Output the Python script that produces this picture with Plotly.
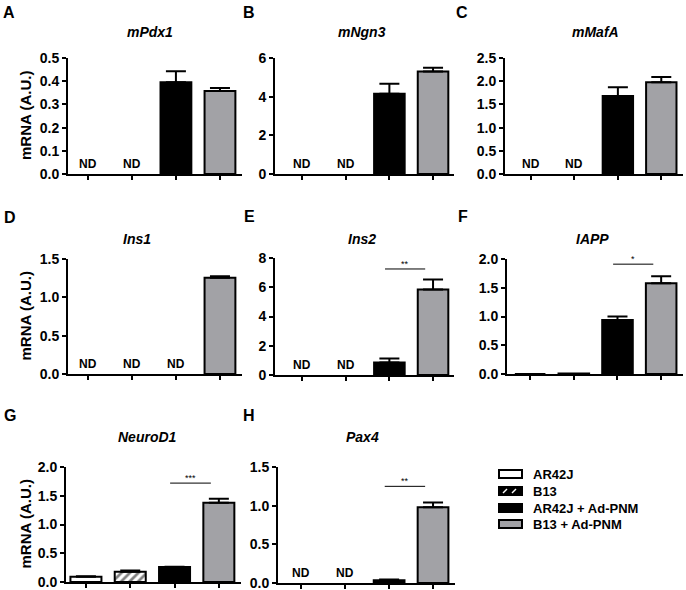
import plotly.graph_objects as go

# ---------------- data ----------------
categories = ["AR42J", "B13", "AR42J + Ad-PNM", "B13 + Ad-PNM"]

mPdx1 = [None, None, 0.395, 0.358]
mPdx1_err = [0, 0, 0.048, 0.013]
mNgn3 = [None, None, 4.15, 5.30]
mNgn3_err = [0, 0, 0.52, 0.20]
mMafA = [None, None, 1.68, 1.98]
mMafA_err = [0, 0, 0.19, 0.11]
Ins1 = [None, None, None, 1.255]
Ins1_err = [0, 0, 0, 0.02]
Ins2 = [None, None, 0.85, 5.85]
Ins2_err = [0, 0, 0.28, 0.68]
IAPP = [0.0, 0.01, 0.94, 1.58]
IAPP_err = [0, 0, 0.06, 0.12]
NeuroD1 = [0.09, 0.18, 0.26, 1.38]
NeuroD1_err = [0.01, 0.02, 0.005, 0.07]
Pax4 = [None, None, 0.035, 0.98]
Pax4_err = [0, 0, 0.01, 0.06]

gene_titles = ["mPdx1", "mNgn3", "mMafA", "Ins1", "Ins2", "IAPP", "NeuroD1", "Pax4"]
panel_letters = ["A", "B", "C", "D", "E", "F", "G", "H"]
y_title = "mRNA (A.U.)"
y_max = [0.5, 6, 2.5, 1.5, 8, 2.0, 2.0, 1.5]
y_dtick = [0.1, 2, 0.5, 0.5, 2, 0.5, 0.5, 0.5]
y_fmt = [".1f", "d", ".1f", ".1f", "d", ".1f", ".1f", ".1f"]
significance = {4: ("**", 7.25), 5: ("*", 1.91), 6: ("***", 1.72), 7: ("**", 1.25)}

values = [mPdx1, mNgn3, mMafA, Ins1, Ins2, IAPP, NeuroD1, Pax4]
errors = [mPdx1_err, mNgn3_err, mMafA_err, Ins1_err, Ins2_err, IAPP_err, NeuroD1_err, Pax4_err]

# ---------------- styling ----------------
W, H = 686, 590
FONT = "Liberation Sans, Arial, sans-serif"
GRAY = "#a2a2a6"
fills = ["white", "white", "black", GRAY]
patterns = ["", "/", "", ""]

# plot-area pixel boxes: (x0, x1, y_top, y_bottom, xrange_start, xrange_end)
boxes = [
    (68, 242, 58, 174, -0.45, 3.5),
    (275, 454, 58, 174, -0.62, 3.48),
    (505, 683, 58, 174, -0.6, 3.5),
    (68, 242, 259, 374, -0.45, 3.5),
    (275, 454, 258, 375, -0.62, 3.48),
    (507, 683, 259, 374, -0.53, 3.5),
    (66, 241, 467, 582, -0.45, 3.5),
    (278, 455, 467, 583, -0.53, 3.5),
]
title_pos = [(150, 32), (362, 32), (595, 32), (137, 239), (362, 239), (592, 239), (147, 437), (362, 437)]
letter_pos = [(9, 13), (249, 13), (462, 13), (10, 218), (250, 217), (463, 217), (10, 415), (249, 415)]


def px(x):
    return x / W


def py(y):
    return 1 - y / H


fig = go.Figure()
annotations = []
shapes = []

for i in range(8):
    x0, x1, yt, yb, r0, r1 = boxes[i]
    ax = "" if i == 0 else str(i + 1)
    xa, ya = "x" + ax, "y" + ax
    vals = values[i]
    errs = errors[i]
    for j in range(4):
        if vals[j] is None:
            annotations.append(dict(x=j, y=0, xref=xa, yref=ya, text="<b>ND</b>",
                                    showarrow=False, xanchor="center", yanchor="bottom", yshift=1,
                                    font=dict(family=FONT, size=12, color="black")))
            continue
        fig.add_trace(go.Bar(
            x=[j], y=[vals[j]], width=0.7, xaxis=xa, yaxis=ya, showlegend=False,
            name=categories[j],
            marker=dict(color=fills[j], line=dict(color="black", width=2),
                        pattern=dict(shape=patterns[j], fgcolor="black", bgcolor="white",
                                     size=6, solidity=0.45)),
            error_y=dict(type="data", symmetric=False, array=[errs[j]], arrayminus=[0],
                         color="black", thickness=2, width=10, visible=errs[j] > 0),
        ))
    fig.layout["xaxis" + ax] = dict(
        domain=[px(x0), px(x1)], range=[r0, r1], anchor=ya, automargin=False,
        showline=True, linecolor="black", linewidth=2, showgrid=False, zeroline=False,
        tickmode="array", tickvals=[0, 1, 2, 3], ticks="outside", ticklen=4, tickwidth=1.5,
        tickcolor="black", showticklabels=False, fixedrange=True)
    fig.layout["yaxis" + ax] = dict(
        domain=[py(yb), py(yt)], range=[0, y_max[i]], anchor=xa, automargin=False,
        showline=True, linecolor="black", linewidth=2, showgrid=False, zeroline=False,
        dtick=y_dtick[i], tick0=0, tickformat=y_fmt[i], ticks="outside", ticklen=4,
        tickwidth=2, tickcolor="black", fixedrange=True, ticklabeloverflow="allow",
        tickfont=dict(family=FONT, size=14, color="black", weight="bold"))
    if i in (0, 3, 6):
        annotations.append(dict(x=px(25), y=py((yt + yb) / 2), xref="paper", yref="paper",
                                xanchor="center", yanchor="middle", textangle=-90,
                                text="<b>" + y_title + "</b>", showarrow=False,
                                font=dict(family=FONT, size=15, color="black")))
    # gene title
    tx, ty = title_pos[i]
    annotations.append(dict(x=px(tx), y=py(ty), xref="paper", yref="paper",
                            xanchor="center", yanchor="middle",
                            text="<b><i>" + gene_titles[i] + "</i></b>", showarrow=False,
                            font=dict(family=FONT, size=14, color="black")))
    lx, ly = letter_pos[i]
    annotations.append(dict(x=px(lx), y=py(ly), xref="paper", yref="paper",
                            xanchor="center", yanchor="middle",
                            text="<b>" + panel_letters[i] + "</b>", showarrow=False,
                            font=dict(family=FONT, size=16, color="black")))
    if i in significance:
        star, sy = significance[i]
        shapes.append(dict(type="line", xref=xa, yref=ya, x0=1.9, x1=2.82, y0=sy, y1=sy,
                           line=dict(color="black", width=1)))
        annotations.append(dict(x=2.36, y=sy, xref=xa, yref=ya, text=star, showarrow=False,
                                xanchor="center", yanchor="bottom", yshift=-2,
                                font=dict(family=FONT, size=9, color="black")))

# ---------------- legend (drawn manually) ----------------
leg_y = [474, 491, 508, 524]
for k, name in enumerate(categories):
    cy = leg_y[k]
    fill = "black" if k in (1, 2) else fills[k]
    shapes.append(dict(type="rect", xref="paper", yref="paper",
                       x0=px(499), x1=px(522), y0=py(cy + 4), y1=py(cy - 4),
                       fillcolor=fill, line=dict(color="black", width=2)))
    if k == 1:
        for sx in (505, 514):
            shapes.append(dict(type="line", xref="paper", yref="paper",
                               x0=px(sx - 2), x1=px(sx + 2), y0=py(cy + 2), y1=py(cy - 2),
                               line=dict(color="white", width=1.5)))
    annotations.append(dict(x=px(531), y=py(cy), xref="paper", yref="paper",
                            text="<b>" + name + "</b>", showarrow=False,
                            xanchor="left", yanchor="middle",
                            font=dict(family=FONT, size=13, color="black")))

fig.update_layout(
    width=W, height=H, margin=dict(l=0, r=0, t=0, b=0, autoexpand=False),
    paper_bgcolor="white", plot_bgcolor="white",
    annotations=annotations, shapes=shapes, barmode="overlay", showlegend=False,
    font=dict(family=FONT, color="black"),
)

fig.write_html("out.html", config={"displayModeBar": False},
               post_script="document.body.style.margin='0';document.body.style.overflow='hidden';")
